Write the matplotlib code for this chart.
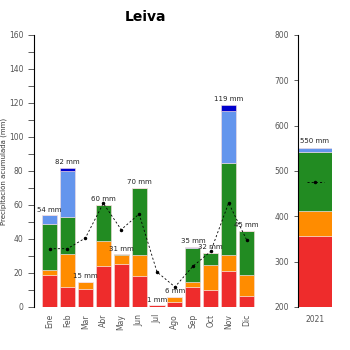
import numpy as np
import matplotlib
matplotlib.use("Agg")
import matplotlib.pyplot as plt
from matplotlib.ticker import MultipleLocator

months = ['Ene', 'Feb', 'Mar', 'Abr', 'May', 'Jun', 'Jul', 'Ago', 'Sep', 'Oct', 'Nov', 'Dic']
red = [19, 12, 10.5, 24, 25.5, 18, 1, 3, 11.5, 10, 21, 6.5]
orange = [2.5, 19, 4.5, 15, 5, 12.5, 0, 3, 3.5, 14.5, 9.5, 12.5]
green = [27.5, 22, 0, 21, 0.5, 39.5, 0, 0, 19.5, 7.5, 54, 26]
lightblue = [5, 27, 0, 0, 0, 0, 0, 0, 1, 0, 30.5, 0]
darkblue = [0, 2, 0, 0, 0, 0, 0, 0, 0, 0, 4, 0]
totals = [54, 82, 15, 60, 31, 70, 1, 6, 35, 32, 119, 45]
mean_line = [34.3, 34.3, 40.6, 61, 45.5, 54.7, 20.6, 11.8, 23.9, 32.7, 61.2, 39.6]

year = '2021'
year_parts = [357, 54, 130, 9]
year_total = 550
year_mean = 476

colors = ['#EE2C2C', '#FF8C00', '#228B22', '#6495ED', '#0000CD']
grey = '#555555'

fig = plt.figure(figsize=(3.5, 3.5), dpi=100)
ax = fig.add_axes([34/350, 43/350, 224/350, 272/350])
ax2 = fig.add_axes([298/350, 43/350, 34/350, 272/350])

x = np.arange(len(months))
bottom = np.zeros(len(months))
for vals, c in zip([red, orange, green, lightblue, darkblue], colors):
    ax.bar(x, vals, 0.84, bottom=bottom, color=c, edgecolor='#f6dede', linewidth=0.4)
    bottom += np.array(vals)

for xi, t in zip(x, totals):
    ax.text(xi, max(t, bottom[xi]) + 1.5, f'{t} mm', ha='center', va='bottom', fontsize=5, color='#222222')

ax.plot(x, mean_line, color='black', linestyle=(0, (2.5, 2.5)), linewidth=0.6,
        marker='.', markersize=3)

ax.set_xlim(-0.87, 11.64)
ax.set_ylim(0, 160)
ax.yaxis.set_major_locator(MultipleLocator(20))
ax.yaxis.set_minor_locator(MultipleLocator(10))
ax.tick_params(axis='y', which='both', length=4, width=0.6, labelsize=5.5, labelcolor=grey, color='#444444')
ax.set_xticks(x)
ax.set_xticklabels(months, rotation=90, fontsize=5.5, color=grey)
ax.tick_params(axis='x', length=0, pad=5)
for s in ['top', 'right', 'bottom']:
    ax.spines[s].set_visible(False)
ax.spines['left'].set_linewidth(0.8)
ax.set_ylabel('Precipitación acumulada (mm)', fontsize=5, color='#333333', labelpad=1.5)
ax.set_title('Leiva', fontsize=10, fontweight='bold', pad=10)

bot = 0
for v, c in zip(year_parts, colors):
    ax2.bar(0, v, 1.0, bottom=bot, color=c, edgecolor='#f6dede', linewidth=0.4)
    bot += v
ax2.text(0, year_total + 10, f'{year_total} mm', ha='center', va='bottom', fontsize=5, color='#222222')
ax2.plot([-0.25, 0, 0.25], [year_mean] * 3, color='black', linestyle=(0, (2.5, 2.5)),
         linewidth=0.6, marker='.', markersize=3, markevery=[1])
ax2.set_xlim(-0.5, 0.5)
ax2.set_ylim(200, 800)
ax2.yaxis.set_major_locator(MultipleLocator(100))
ax2.tick_params(axis='y', length=3, width=0.6, labelsize=5.5, labelcolor=grey, color='#444444')
ax2.set_xticks([0])
ax2.set_xticklabels([year], fontsize=5.5, color=grey)
ax2.tick_params(axis='x', length=0, pad=6)
for s in ['top', 'right', 'bottom']:
    ax2.spines[s].set_visible(False)
ax2.spines['left'].set_linewidth(0.8)

fig.savefig('out.png', dpi=100)
